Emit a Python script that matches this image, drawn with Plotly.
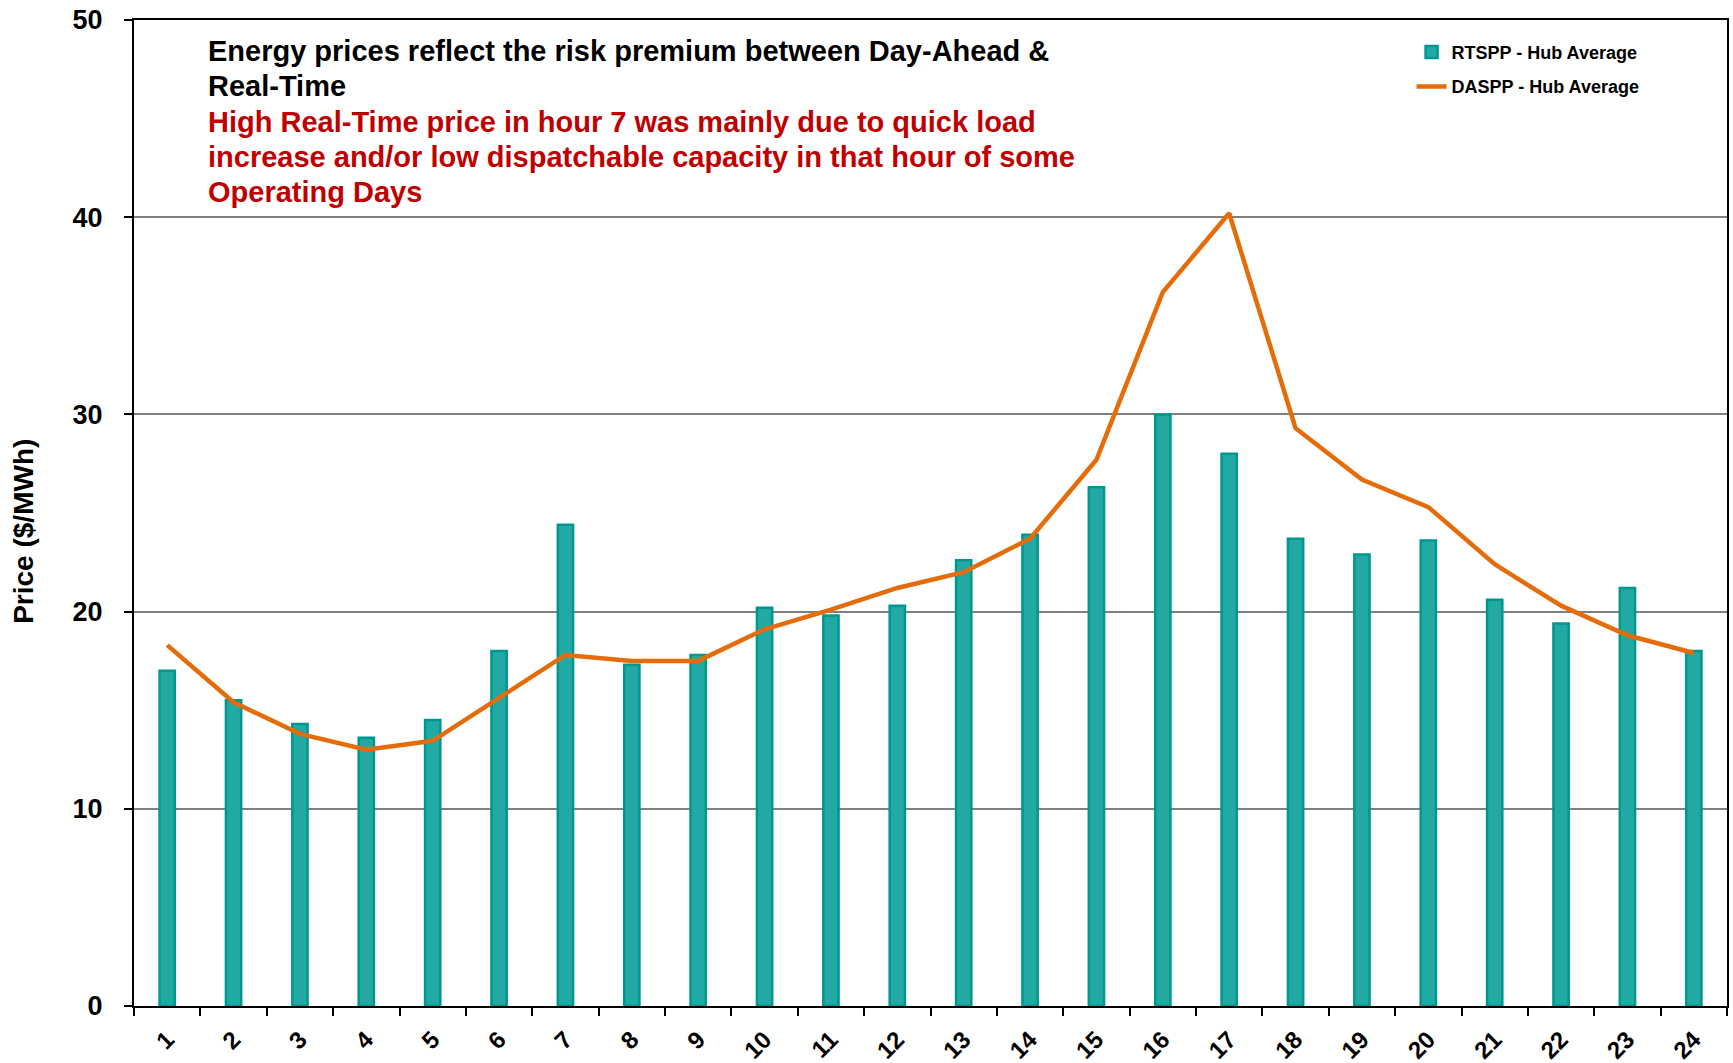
import plotly.graph_objects as go

hours = [str(h) for h in range(1, 25)]
rtspp = [17.0, 15.5, 14.3, 13.6, 14.5, 18.0, 24.4, 17.3, 17.8, 20.2, 19.8, 20.3,
         22.6, 23.9, 26.3, 30.0, 28.0, 23.7, 22.9, 23.6, 20.6, 19.4, 21.2, 18.0]
daspp = [18.3, 15.4, 13.8, 13.0, 13.45, 15.6, 17.8, 17.5, 17.5, 19.1, 20.1, 21.2,
         22.0, 23.7, 27.7, 36.2, 40.2, 29.3, 26.7, 25.3, 22.4, 20.3, 18.8, 17.9]
y_ticks = [0, 10, 20, 30, 40, 50]
y_title = "Price ($/MWh)"

title_lines = [
    "Energy prices reflect the risk premium between Day-Ahead &",
    "Real-Time",
    "High Real-Time price in hour 7 was mainly due to quick load",
    "increase and/or low dispatchable capacity in that hour of some",
    "Operating Days",
]
title_colors = ["black", "black", "#c00000", "#c00000", "#c00000"]

FONT = "Liberation Sans"
W, H = 1733, 1063
ML, MR, MT, MB = 134, 6, 20, 57
plot_h = H - MT - MB

fig = go.Figure()
fig.add_trace(go.Bar(
    x=hours, y=rtspp, name="RTSPP - Hub Average", legendgroup="a",
    width=0.23,
    marker=dict(color="#22a9a4", line=dict(color="#00978f", width=2.5)),
))
fig.add_trace(go.Scatter(
    x=hours, y=daspp, name="DASPP - Hub Average", legendgroup="b",
    mode="lines", line=dict(color="#e46c0a", width=4.5),
))

# annotation text block: first line center ~51px from top, 35.3px line pitch
first_center_px = 51
line_pitch_px = 35.3
for i, (txt, col) in enumerate(zip(title_lines, title_colors)):
    yc = first_center_px + i * line_pitch_px
    fig.add_annotation(
        text=txt, xref="paper", yref="paper", x=0.045,
        y=(H - MB - yc) / plot_h,
        xanchor="left", yanchor="middle", align="left", showarrow=False,
        font=dict(family=FONT, size=29, color=col, weight="bold"),
    )

# y-axis title (placed slightly below the plot's vertical centre, as in the source)
fig.add_annotation(
    text=y_title, xref="paper", yref="paper", x=-0.069, y=0.481,
    xanchor="center", yanchor="middle", textangle=-90, showarrow=False,
    font=dict(family=FONT, size=28, color="black", weight="bold"),
)

fig.update_layout(
    width=W, height=H,
    margin=dict(l=ML, r=MR, t=MT, b=MB, autoexpand=False),
    paper_bgcolor="white", plot_bgcolor="white",
    font=dict(family=FONT, color="black"),
    showlegend=True,
    legend=dict(
        x=0.802, y=0.986, xanchor="left", yanchor="top",
        font=dict(family=FONT, size=18, weight="bold"),
        bgcolor="rgba(0,0,0,0)", traceorder="grouped", tracegroupgap=8,
    ),
)
fig.update_xaxes(
    type="category", showline=True, linecolor="black", linewidth=2, mirror=True,
    ticks="outside", tickson="boundaries", ticklen=8, tickwidth=1.5, tickcolor="black",
    tickangle=-45, tickfont=dict(family=FONT, size=24, weight="bold"),
    ticklabelstandoff=8, showgrid=False, automargin=False,
)
fig.update_yaxes(
    range=[0, 50], tickvals=y_ticks, showline=True, linecolor="black", linewidth=2,
    mirror=True, ticks="outside", ticklen=8, tickwidth=1.5, tickcolor="black",
    tickfont=dict(family=FONT, size=27, weight="bold"), ticklabelstandoff=16,
    showgrid=True, gridcolor="#808080", gridwidth=2, zeroline=False,
    automargin=False,
)

fig.write_html("out.html", config={"displayModeBar": False},
               post_script="document.body.style.margin='0';")
